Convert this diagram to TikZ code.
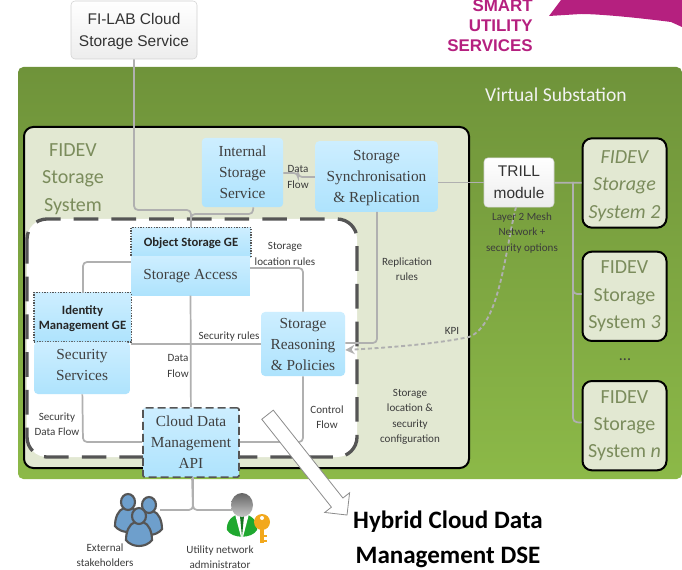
\documentclass[tikz,border=0pt]{standalone}
\usepackage{fontspec}
\setmainfont{Carlito}
\newfontfamily\boxfont{Liberation Serif}
\newfontfamily\headfont{Liberation Sans}
\usetikzlibrary{arrows.meta}
\usetikzlibrary{positioning}
\usetikzlibrary{shapes.arrows}
\definecolor{mOuterTop}{HTML}{6F933A}
\definecolor{mOuterBot}{HTML}{8CB948}
\definecolor{mPanel}{HTML}{E2E8D2}
\definecolor{mFidev}{HTML}{7B8C5C}
\definecolor{mBlueTop}{HTML}{CDEEFF}
\definecolor{mBlueBot}{HTML}{AEE3FD}
\definecolor{mMagenta}{HTML}{B5207F}
\definecolor{mLine}{HTML}{B0B0B0}
\definecolor{mDash}{HTML}{555555}
\definecolor{mLabel}{HTML}{3C3C3C}
\definecolor{mPeople}{HTML}{6E9FCC}
\definecolor{mGreen}{HTML}{1FA82F}
\definecolor{mKey}{HTML}{F2A81D}
\tikzset{
  blue box/.style={
    top color=mBlueTop,
    bottom color=mBlueBot,
    rounded corners=3pt,
    inner sep=0pt,
    align=center,
    text depth=0pt,
    font=\boxfont\fontsize{11.5}{15.75}\selectfont,
    text=black!75,
  },
  ge box/.style={
    blue box,
    draw=mDash,
    densely dotted,
    rounded corners=0pt,
    line width=1pt,
    font=\bfseries\fontsize{9.5}{11.5}\selectfont,
    text=black!85,
  },
  grey box/.style={
    top color=white,
    bottom color=black!7,
    draw=black!18,
    rounded corners=3pt,
    inner sep=0pt,
    align=center,
    font=\headfont\fontsize{11.6}{16.5}\selectfont,
    text=black!80,
  },
  system box/.style={
    fill=mPanel,
    draw=black,
    line width=1.5pt,
    rounded corners=7pt,
    inner sep=0pt,
    minimum width=63pt,
    minimum height=67pt,
    align=center,
    font=\fontsize{15}{20.5}\selectfont,
    text=mFidev,
  },
  small label/.style={
    align=center,
    inner sep=0pt,
    font=\fontsize{8.3}{11.6}\selectfont,
    text=mLabel,
  },
  conn/.style={
    draw=mLine,
    line width=1.3pt,
    rounded corners=3pt,
  },
  kpi conn/.style={
    draw=mLine,
    line width=1.4pt,
    dash pattern=on 3pt off 2pt,
    -{Stealth[length=7pt,width=7pt]},
  },
  dse arrow/.style={
    draw=black!45,
    fill=white,
    line width=.6pt,
    shape=single arrow,
    single arrow tip angle=90,
    single arrow head extend=6.4pt,
    inner sep=5.2pt,
    minimum height=96pt,
  },
  person/.pic={
    \path[fill=mPeople,draw=mDash,line width=1.6pt]
      (-4,-3) .. controls (-10,-1) and (-13,7) .. (-13,15)
      .. controls (-7,23) and (7,23) .. (13,15)
      .. controls (13,7) and (10,-1) .. (4,-3) -- cycle;
    \path[fill=mPeople,draw=mDash,line width=1.6pt]
      (0,-9) ellipse [x radius=7, y radius=8];
  },
}
\begin{document}
\begin{tikzpicture}[x=.75pt,y=-.75pt]
  \useasboundingbox (0,0) rectangle (682,570);
  % backdrop panels
  \path[top color=mOuterTop,bottom color=mOuterBot,rounded corners=4pt] (18,67) rectangle (682,479);
  \path[fill=mPanel,draw=black,line width=1.5pt,rounded corners=7pt] (24,127) rectangle (469,468);
  \path[fill=white,draw=mDash,line width=2.5pt,dash pattern=on 18.5pt off 9.8pt,rounded corners=15pt] (27,219) rectangle (357,457);
  \path[fill=mMagenta] (549,16) -- (561,0) -- (682,0) -- (682,27) -- (671,22) .. controls (640,18) and (600,14) .. (581,14) -- cycle;

  % boxes
  \node[grey box,minimum width=94.5pt,minimum height=43.5pt,text depth=0pt] (filab) at (134,30) {FI-LAB Cloud\\Storage Service};
  \node[grey box,minimum width=52.5pt,minimum height=37pt] (trill) at (519,182.5) {TRILL\\module};
  \node[blue box,minimum width=61pt,minimum height=52pt] (internal) at (242.5,172.5) {Internal\\Storage\\Service};
  \node[blue box,minimum width=92pt,minimum height=53pt] (sync) at (376.5,176.5) {Storage\\Synchronisation\\\&~Replication};
  \node[ge box,minimum width=90pt,minimum height=22pt] (objectge) at (191,242.5) {Object Storage GE};
  \node[blue box,rounded corners=0pt,text depth=2pt,minimum width=89pt,minimum height=29pt] (access) at (190.5,276) {Storage Access};
  \node[ge box,minimum width=73pt,minimum height=37pt] (identityge) at (82.5,317.5) {Identity\\Management GE};
  \node[blue box,text depth=4.5pt,minimum width=72pt,minimum height=39pt] (security) at (82,368) {Security\\Services};
  \node[blue box,minimum width=63pt,minimum height=48pt] (reasoning) at (303,344) {Storage\\Reasoning\\\&~Policies};
  \node[blue box,draw=mDash,dash pattern=on 6pt off 3pt,line width=1.2pt,rounded corners=1pt,minimum width=72pt,minimum height=52pt] (api) at (191,442.5) {Cloud Data\\Management\\API};
  \node[system box,font=\itshape\fontsize{15}{20.5}\selectfont] (sys2) at (624.5,183) {\rule{0pt}{14.4pt}FIDEV\\Storage\\System 2};
  \node[system box,below=16.5pt of sys2] (sys3) {FIDEV\\Storage\\System \textit{3}};
  \node[system box,below=28.5pt of sys3] (sysn) {FIDEV\\Storage\\System \textit{n}};

  % connectors
  \draw[conn] (filab) -- (134,210) -- (191,210) -- (objectge);
  \draw[conn] ([xshift=8pt]internal.south) -- (253,214) -- (191,214) -- (objectge);
  \draw[conn] (internal.east |- 0,173) -- (298,173) -- (298,177) -- (sync.west |- 0,177);
  \draw[conn] (sync.east |- trill) -- (trill);
  \draw[conn] (trill) -- (sys2);
  \draw[conn] (573,182) -- (573,294) -- (sys3.west |- 0,294);
  \draw[conn] (573,290) -- (573,422) -- (sysn);
  \draw[conn] (access.west |- 0,262) -- (83,262) -- (83,293);
  \draw[conn] (access.east |- 0,268) -- (303,268) -- (reasoning);
  \draw[conn] (reasoning) -- (303,442) -- (api.east |- 0,442);
  \draw[conn] (security) -- (83,442) -- (api.west |- 0,442);
  \draw[conn] (access) -- (api);
  \draw[conn] (131,344) -- (reasoning.west |- 0,344);
  \draw[conn] (377,212) -- (377,343) -- (reasoning.east |- 0,343);
  \draw[kpi conn] (516,207) .. controls (505,250) and (500,325) .. (469,337) .. controls (440,343) and (400,347) .. (reasoning.east |- 0,350);
  \draw[conn] (api) -- (193,510) -- (160,510);
  \draw[conn] (193,477) -- (193,510) -- (232,510);

  % hand-over arrow
  \node[dse arrow,rotate=-51.6] (dsearrow) at (305,462) {};

  % stakeholder icons
  \pic at (128,511) {person};
  \pic at (149,514) {person};
  \pic at (139,525) {person};
  \path[fill=mGreen] (227,530) .. controls (226,522) and (232,514) .. (242,514)
    .. controls (252,514) and (258,522) .. (257,530) .. controls (252,539) and (232,539) .. (227,530) -- cycle;
  \path[fill=white] (235,514) -- (241,537) -- (243,537) -- (249,514) -- cycle;
  \path[fill=mGreen!70!black] (240,516) -- (242,537) -- (244,516) -- cycle;
  \path[top color=black!60,bottom color=black!22] (242,505) ellipse [x radius=11, y radius=12];
  \path[draw=mKey,line width=2.4pt] (262,526) -- (262,543);
  \path[draw=mKey,line width=1.6pt] (262,536) -- (267,536) (262,541) -- (267,541);
  \path[fill=mKey] (262,522) circle [radius=8];
  \path[fill=white] (262,518) circle [radius=2];

  % labels
  \node[text=mMagenta,align=right,anchor=east,inner sep=0pt,font=\headfont\bfseries\fontsize{12.7}{15}\selectfont] (smart) at (533,26) {SMART\\UTILITY\\SERVICES};
  \node[text=black!5,inner sep=0pt,font=\fontsize{14.7}{18}\selectfont] (virtual) at (556,95) {Virtual Substation};
  \node[text=mFidev,align=center,inner sep=0pt,font=\fontsize{15}{20.5}\selectfont] (fidev) at (73,179) {FIDEV\\Storage\\System};
  \node[small label] (dataflowa) at (298,177) {Data\\Flow};
  \node[small label] (locrules) at (285,254) {Storage\\location rules};
  \node[small label] (reprules) at (407,269) {Replication\\rules};
  \node[small label] (mesh) at (522,233) {Layer 2 Mesh\\Network +\\security options};
  \node[small label] (kpi) at (452,331) {KPI};
  \node[small label] (secrules) at (229,337) {Security rules};
  \node[small label] (dataflowb) at (178,366) {Data\\Flow};
  \node[small label] (secflow) at (57,424) {Security\\Data Flow};
  \node[small label] (control) at (327,417) {Control\\Flow};
  \node[small label] (config) at (410,417) {Storage\\location \&\\security\\configuration};
  \node[small label] (external) at (105,555) {External\\stakeholders};
  \node[small label] (utility) at (220,557) {Utility network\\administrator};
  \node[font=\fontsize{12}{14}\selectfont,text=mLabel,inner sep=0pt] (dots) at (625,360) {...};
  \node[align=center,inner sep=0pt,font=\bfseries\fontsize{18.8}{26}\selectfont] (hybrid) at (448,539) {Hybrid Cloud Data\\Management DSE};
\end{tikzpicture}
\end{document}
